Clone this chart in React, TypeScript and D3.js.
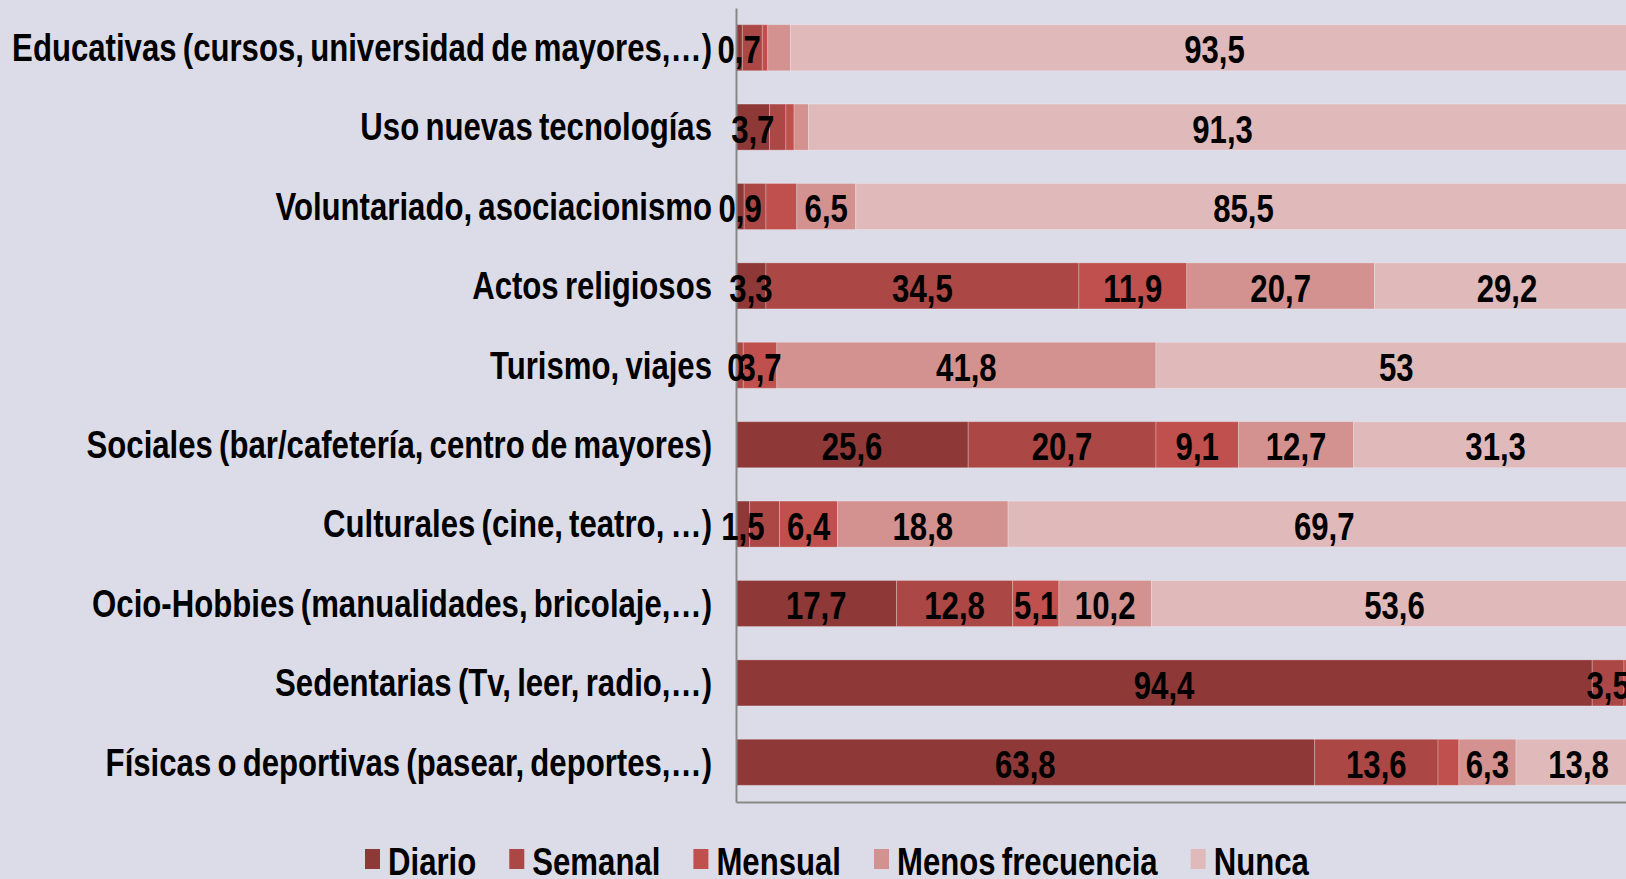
import React, { useEffect, useRef } from "react";
import * as d3 from "d3";

const categories = [
  "Educativas (cursos, universidad de mayores,…)",
  "Uso nuevas tecnologías",
  "Voluntariado, asociacionismo",
  "Actos religiosos",
  "Turismo, viajes",
  "Sociales (bar/cafetería, centro de mayores)",
  "Culturales (cine, teatro, …)",
  "Ocio-Hobbies (manualidades, bricolaje,…)",
  "Sedentarias (Tv, leer, radio,…)",
  "Físicas o deportivas (pasear, deportes,…)",
];

const seriesNames = ["Diario", "Semanal", "Mensual", "Menos frecuencia", "Nunca"];

const diario = [0.7, 3.7, 0.9, 3.3, 0, 25.6, 1.5, 17.7, 94.4, 63.8];
const semanal = [2.2, 1.8, 2.4, 34.5, 0.8, 20.7, 3.3, 12.8, 3.5, 13.6];
const mensual = [0.6, 0.9, 3.4, 11.9, 3.7, 9.1, 6.4, 5.1, 0.9, 2.3];
const menosFrecuencia = [2.5, 1.6, 6.5, 20.7, 41.8, 12.7, 18.8, 10.2, 0.7, 6.3];
const nunca = [93.5, 91.3, 85.5, 29.2, 53, 31.3, 69.7, 53.6, 0.5, 13.8];

// [row, series] pairs whose data label is not shown in the original
const hiddenLabels = [
  [0, 1], [0, 2], [0, 3],
  [1, 1], [1, 2], [1, 3],
  [2, 1], [2, 2],
  [4, 1],
  [6, 1],
  [8, 2], [8, 3], [8, 4],
  [9, 2],
];

const colors = ["#8e3937", "#ab4745", "#c0504d", "#d39190", "#e0baba"];

const W = 1626;
const H = 879;
const FONT = "'Liberation Sans', Arial, sans-serif";
const NARROW = 0.82; // squeeze Liberation Sans to Arial Narrow proportions

export default function App() {
  const ref = useRef<SVGSVGElement>(null);

  useEffect(() => {
    const svg = d3.select(ref.current);
    svg.selectAll("*").remove();

    svg.append("rect").attr("width", W).attr("height", H).attr("fill", "#dcdce9");

    const x = d3.scaleLinear().domain([0, 100]).range([736, 1643]);
    const y = d3
      .scaleBand()
      .domain(categories)
      .range([8, 802])
      .paddingInner(0.42)
      .paddingOuter(0.21);

    const values = [diario, semanal, mensual, menosFrecuencia, nunca];
    const table = categories.map((c, i) => {
      const row: any = { cat: c };
      seriesNames.forEach((s, j) => (row[s] = values[j][i]));
      return row;
    });
    const stacked = d3.stack().keys(seriesNames)(table);

    svg
      .selectAll(".layer")
      .data(stacked)
      .enter()
      .append("g")
      .attr("class", "layer")
      .attr("fill", (d, i) => colors[i])
      .selectAll("rect")
      .data((d) => d)
      .enter()
      .append("rect")
      .attr("x", (d) => x(d[0]))
      .attr("y", (d: any) => y(d.data.cat))
      .attr("width", (d) => x(d[1]) - x(d[0]))
      .attr("height", y.bandwidth())
      .attr("stroke", "rgba(255,255,255,0.25)")
      .attr("stroke-width", 1);

    const yAxis = svg
      .append("g")
      .attr("transform", "translate(736,0)")
      .call(d3.axisLeft(y).tickSize(0).tickSizeOuter(0).tickPadding(24));
    yAxis.select(".domain").attr("stroke", "#878787").attr("stroke-width", 2);
    yAxis
      .selectAll(".tick text")
      .attr("dy", null)
      .attr("x", -24 / NARROW)
      .attr("y", 13.3)
      .attr("transform", `scale(${NARROW},1)`)
      .attr("font-family", FONT)
      .attr("font-weight", "bold")
      .attr("font-size", 38)
      .attr("word-spacing", -3)
      .attr("fill", "#000");

    const xAxis = svg
      .append("g")
      .attr("transform", "translate(0,802)")
      .call(d3.axisBottom(x).tickValues([]).tickSizeOuter(0));
    xAxis.select(".domain").attr("stroke", "#878787").attr("stroke-width", 2);

    const isHidden = (r: number, s: number) =>
      hiddenLabels.some(([a, b]) => a === r && b === s);

    stacked.forEach((layer, s) => {
      layer.forEach((d: any, r) => {
        if (isHidden(r, s)) return;
        const cx = (x(d[0]) + x(d[1])) / 2;
        const cy = (y(d.data.cat) as number) + y.bandwidth() / 2 + 15.6;
        svg
          .append("text")
          .attr("transform", `translate(${cx},${cy}) scale(${NARROW},1)`)
          .attr("text-anchor", "middle")
          .attr("font-family", FONT)
          .attr("font-weight", "bold")
          .attr("font-size", 38)
          .attr("fill", "#000")
          .text(String(values[s][r]).replace(".", ","));
      });
    });

    const legend = svg.append("g");
    let lx = 365;
    seriesNames.forEach((name, i) => {
      legend
        .append("rect")
        .attr("x", lx)
        .attr("y", 849)
        .attr("width", 15)
        .attr("height", 20)
        .attr("fill", colors[i]);
      const t = legend
        .append("text")
        .attr("transform", `translate(${lx + 23},875) scale(${NARROW},1)`)
        .attr("font-family", FONT)
        .attr("font-weight", "bold")
        .attr("font-size", 38)
        .attr("word-spacing", -3)
        .attr("fill", "#000")
        .text(name);
      const w = (t.node() as SVGTextElement).getComputedTextLength() * NARROW;
      lx += 23 + w + 33;
    });
  }, []);

  return (
    <svg
      ref={ref}
      width={W}
      height={H}
      style={{ position: "absolute", left: 0, top: 0, display: "block" }}
    />
  );
}
